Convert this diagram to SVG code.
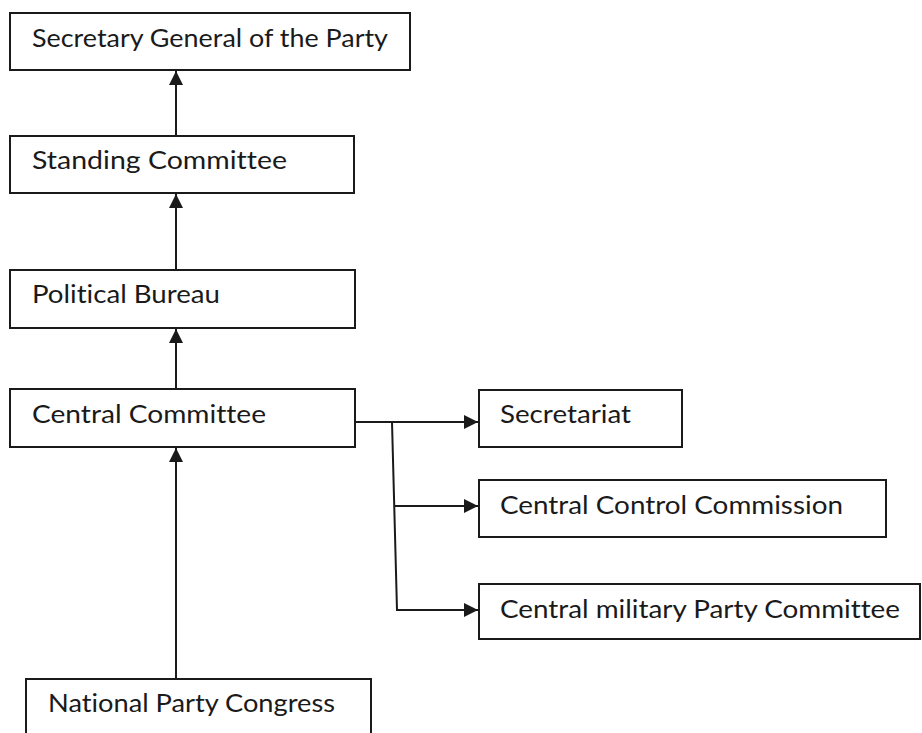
<svg xmlns="http://www.w3.org/2000/svg" width="922" height="733" viewBox="0 0 922 733">
  <style>
    .box { fill: #ffffff; stroke: #1a1a1a; stroke-width: 2; }
    .lbl { font-family: Lato, "Open Sans", "DejaVu Sans", sans-serif; font-size: 25px; fill: #1a1a1a; font-variant-ligatures: none; }
    .con { fill: none; stroke: #1a1a1a; stroke-width: 2; }
  </style>
  <defs>
    <marker id="arr" markerUnits="userSpaceOnUse" markerWidth="15" markerHeight="14" refX="14" refY="7" orient="auto">
      <path d="M0,0 L14,7 L0,14 Z" fill="#1a1a1a"/>
    </marker>
  </defs>
  <rect width="922" height="733" fill="#ffffff"/>

  <g id="connectors">
    <line class="con" x1="176" y1="136" x2="176" y2="71" marker-end="url(#arr)"/>
    <line class="con" x1="176" y1="270" x2="176" y2="194" marker-end="url(#arr)"/>
    <line class="con" x1="176" y1="389" x2="176" y2="329" marker-end="url(#arr)"/>
    <line class="con" x1="176" y1="679" x2="176" y2="448" marker-end="url(#arr)"/>
    <line class="con" x1="355" y1="422" x2="478" y2="422" marker-end="url(#arr)"/>
    <polyline class="con" points="392,422 397,610 478,610" marker-end="url(#arr)"/>
    <line class="con" x1="394" y1="506" x2="478" y2="506" marker-end="url(#arr)"/>
  </g>

  <g id="secretary-general">
    <rect class="box" x="10" y="13" width="400" height="57"/>
    <text class="lbl" x="32" y="47" textLength="356" lengthAdjust="spacingAndGlyphs">Secretary General of the Party</text>
  </g>
  <g id="standing-committee">
    <rect class="box" x="10" y="136" width="344" height="57"/>
    <text class="lbl" x="32" y="169" textLength="255" lengthAdjust="spacingAndGlyphs">Standing Committee</text>
  </g>
  <g id="political-bureau">
    <rect class="box" x="10" y="270" width="345" height="58"/>
    <text class="lbl" x="32" y="303" textLength="188" lengthAdjust="spacingAndGlyphs">Political Bureau</text>
  </g>
  <g id="central-committee">
    <rect class="box" x="10" y="389" width="345" height="58"/>
    <text class="lbl" x="32" y="423" textLength="234" lengthAdjust="spacingAndGlyphs">Central Committee</text>
  </g>
  <g id="secretariat">
    <rect class="box" x="479" y="390" width="203" height="57"/>
    <text class="lbl" x="500" y="423" textLength="131" lengthAdjust="spacingAndGlyphs">Secretariat</text>
  </g>
  <g id="central-control-commission">
    <rect class="box" x="479" y="480" width="407" height="57"/>
    <text class="lbl" x="500" y="514" textLength="343" lengthAdjust="spacingAndGlyphs">Central Control Commission</text>
  </g>
  <g id="central-military-party-committee">
    <rect class="box" x="479" y="584" width="441" height="55"/>
    <text class="lbl" x="500" y="618" textLength="400" lengthAdjust="spacingAndGlyphs">Central military Party Committee</text>
  </g>
  <g id="national-party-congress">
    <rect class="box" x="26" y="679" width="345" height="70"/>
    <text class="lbl" x="48" y="712" textLength="287" lengthAdjust="spacingAndGlyphs">National Party Congress</text>
  </g>
</svg>
